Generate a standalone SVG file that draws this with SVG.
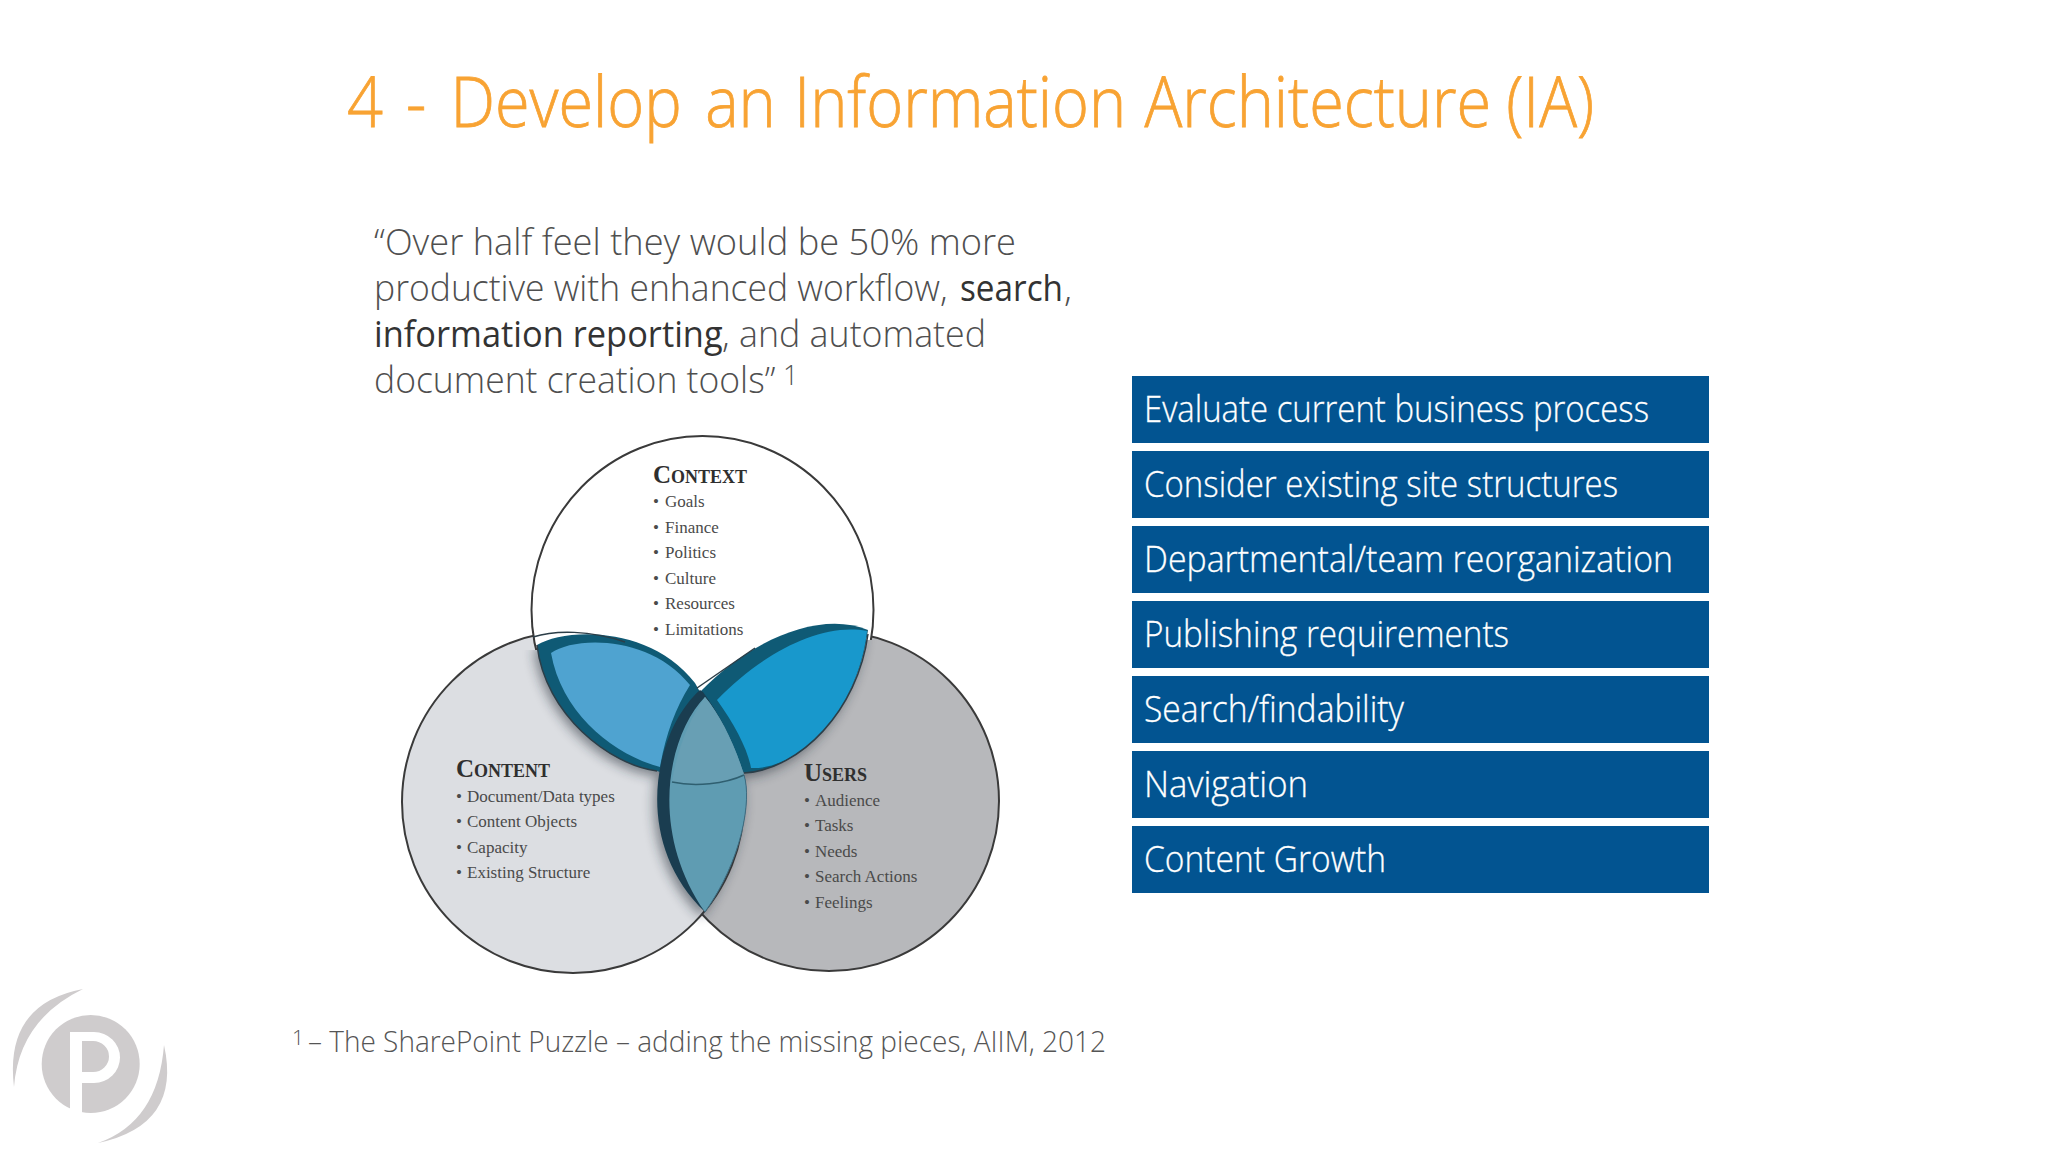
<svg xmlns="http://www.w3.org/2000/svg" width="2048" height="1152" viewBox="0 0 2048 1152">
<defs>
<style>
.lt{font-family:"Open Sans","Noto Sans","Liberation Sans",sans-serif;font-weight:300}
.title{font-size:70px;fill:#f8a333;stroke:#f8a333;stroke-width:.8}
.body{font-size:37px;fill:#4f4f4f}
.bd{font-weight:400;fill:#333}
.foot{font-size:29px;fill:#555}
.sup{font-size:27px;fill:#555}
.sup2{font-size:21px;fill:#555}
.box{fill:#025491}
.bt{font-size:36px;fill:#fff;stroke:#fff;stroke-width:.3}
.h{font-family:"Liberation Serif",serif;font-weight:700;font-size:25px;font-variant:small-caps;fill:#2f2f2f}
.i{font-family:"Liberation Serif",serif;font-size:17px;fill:#4a4a4a}
.c{stroke:#3a3a3a;stroke-width:2}
.ln{fill:none;stroke:#2c3e48;stroke-width:1.5}
</style>
<clipPath id="below"><path d="M490 650H540L700 720L860 640H1010V960H490Z"/></clipPath>
<clipPath id="above"><path d="M490 400H1010V640H860L700 720L540 650H490Z"/></clipPath>
<filter id="sh" x="-20%" y="-20%" width="140%" height="140%"><feGaussianBlur stdDeviation="6"/></filter>
</defs>
<rect width="2048" height="1152" fill="#fff"/>
<text class="lt title" transform="translate(347 127) scale(.9 1)"><tspan x="0">4</tspan> <tspan x="65.6">-</tspan> <tspan x="115">Develop</tspan> <tspan x="398">an</tspan> <tspan x="497">Information</tspan> <tspan x="886">Architecture</tspan> <tspan x="1288">(IA)</tspan></text>
<g id="quote">
<text class="lt body" x="374" y="255" textLength="642" lengthAdjust="spacingAndGlyphs">“Over half feel they would be 50% more</text>
<text class="lt body" transform="translate(374 301) scale(.96 1)">productive with enhanced workflow,</text>
<text class="lt body bd" transform="translate(960 301) scale(.9 1)">search</text>
<text class="lt body" x="1064" y="301">,</text>
<text class="lt body bd" transform="translate(374 347) scale(.93 1)">information reporting</text>
<text class="lt body" x="722" y="347" textLength="264" lengthAdjust="spacingAndGlyphs">, and automated</text>
<text class="lt body" transform="translate(374 393) scale(.96 1)">document creation tools”</text>
<text class="lt sup" x="783" y="385">1</text>
</g>
<g id="venn">
<g id="users"><circle class="c" cx="829" cy="801" r="170" fill="#b7b8bb"/></g>
<g id="content"><circle class="c" cx="573" cy="802" r="171" fill="#dcdee2"/></g>
<g id="context" clip-path="url(#above)"><ellipse class="c" cx="702.5" cy="610" rx="171" ry="174" fill="#fff"/></g>
<g clip-path="url(#below)"><g filter="url(#sh)" fill="#1a2730" opacity=".5" transform="translate(-3 5)">
<path d="M537 645C565 628 650 625 695 683L700 690C655 730 630 840 705 912L744 773L657 771C610 765 545 715 537 645Z"/>
<path d="M700 692C750 640 820 610 868 630C858 710 800 770 744 773Z"/>
<path d="M700 690C655 730 630 840 705 912C742 860 752 800 744 775Z"/>
</g></g>
<g id="lens-context-content">
<path d="M537 645C565 628 650 625 695 683L700 692L660 772L657 771C610 765 545 715 537 645Z" fill="#0f5a75"/>
<path d="M551 653C575 636 650 635 690 685Q668 720 660 767C615 755 562 715 551 653Z" fill="#4fa3d0"/>
</g>
<g id="lens-context-users">
<path d="M700 692C750 640 820 610 868 630C858 710 800 770 744 773Z" fill="#0f5a75"/>
<path d="M717 700C760 655 820 622 867 631C858 710 800 770 751 768C748 750 735 725 717 700Z" fill="#1898cc"/>
</g>
<g id="lens-content-users">
<path d="M700 690C655 730 630 840 705 912C742 860 752 800 744 775C735 745 720 715 703 692Z" fill="#1a3d50"/>
<path d="M705 697C668 735 648 830 705 912C742 860 752 800 744 775C735 745 720 715 705 697Z" fill="#5f9cb2"/>
<path d="M705 697C688 722 677 750 672 782C695 787 725 784 744 775C735 745 720 715 705 697Z" fill="#689fb4"/>
<path d="M672 782C695 787 725 784 744 775" fill="none" stroke="#2f5f70" stroke-width="1.5"/>
<path d="M705 912C742 860 752 800 744 775" fill="none" stroke="#3f6c80" stroke-width="1"/>
</g>
<path class="ln" d="M533 637C555 630 590 630 625 642" stroke-width="2"/>
<path class="ln" d="M697 688L755 648"/>
<path class="ln" d="M537 645C545 715 610 765 657 771"/>
<path class="ln" d="M868 634C858 710 800 770 744 773"/>
<g id="context-text">
<text class="h" x="653" y="483">Context</text>
<text class="i" x="653" y="507">• <tspan x="665">Goals</tspan></text>
<text class="i" x="653" y="533">• <tspan x="665">Finance</tspan></text>
<text class="i" x="653" y="558">• <tspan x="665">Politics</tspan></text>
<text class="i" x="653" y="584">• <tspan x="665">Culture</tspan></text>
<text class="i" x="653" y="609">• <tspan x="665">Resources</tspan></text>
<text class="i" x="653" y="635">• <tspan x="665">Limitations</tspan></text>
</g>
<g id="content-text">
<text class="h" x="456" y="777">Content</text>
<text class="i" x="456" y="802">• <tspan x="467">Document/Data types</tspan></text>
<text class="i" x="456" y="827">• <tspan x="467">Content Objects</tspan></text>
<text class="i" x="456" y="853">• <tspan x="467">Capacity</tspan></text>
<text class="i" x="456" y="878">• <tspan x="467">Existing Structure</tspan></text>
</g>
<g id="users-text">
<text class="h" x="804" y="781">Users</text>
<text class="i" x="804" y="806">• <tspan x="815">Audience</tspan></text>
<text class="i" x="804" y="831">• <tspan x="815">Tasks</tspan></text>
<text class="i" x="804" y="857">• <tspan x="815">Needs</tspan></text>
<text class="i" x="804" y="882">• <tspan x="815">Search Actions</tspan></text>
<text class="i" x="804" y="908">• <tspan x="815">Feelings</tspan></text>
</g>
</g>
<g id="n1"><rect class="box" x="1132" y="376" width="577" height="67"/><text class="lt bt" x="1144" y="422" textLength="505" lengthAdjust="spacingAndGlyphs">Evaluate current business process</text></g>
<g id="n2"><rect class="box" x="1132" y="451" width="577" height="67"/><text class="lt bt" x="1144" y="497" textLength="474" lengthAdjust="spacingAndGlyphs">Consider existing site structures</text></g>
<g id="n3"><rect class="box" x="1132" y="526" width="577" height="67"/><text class="lt bt" x="1144" y="572" textLength="529" lengthAdjust="spacingAndGlyphs">Departmental/team reorganization</text></g>
<g id="n4"><rect class="box" x="1132" y="601" width="577" height="67"/><text class="lt bt" x="1144" y="647" textLength="365" lengthAdjust="spacingAndGlyphs">Publishing requirements</text></g>
<g id="n5"><rect class="box" x="1132" y="676" width="577" height="67"/><text class="lt bt" x="1144" y="722" textLength="260" lengthAdjust="spacingAndGlyphs">Search/findability</text></g>
<g id="n6"><rect class="box" x="1132" y="751" width="577" height="67"/><text class="lt bt" x="1144" y="797" textLength="164" lengthAdjust="spacingAndGlyphs">Navigation</text></g>
<g id="n7"><rect class="box" x="1132" y="826" width="577" height="67"/><text class="lt bt" x="1144" y="872" textLength="242" lengthAdjust="spacingAndGlyphs">Content Growth</text></g>
<g id="footnote">
<text class="lt sup2" x="292" y="1045">1</text>
<text class="lt foot" x="308" y="1052" textLength="798" lengthAdjust="spacingAndGlyphs">– The SharePoint Puzzle – adding the missing pieces, AIIM, 2012</text>
</g>
<g id="logo" fill="#cfcccd">
<circle cx="90.7" cy="1064" r="49"/>
<path d="M70 1032H94A26 25.5 0 0 1 94 1083H82V1115H70Z" fill="#fff"/>
<path d="M82 1041H93A16 15.5 0 0 1 93 1072H82Z"/>
<path d="M83 989Q4 1004 14 1087Q19 1020 83 989Z"/>
<path d="M164 1045Q182 1125 98 1143Q158 1122 164 1045Z"/>
</g>
</svg>
